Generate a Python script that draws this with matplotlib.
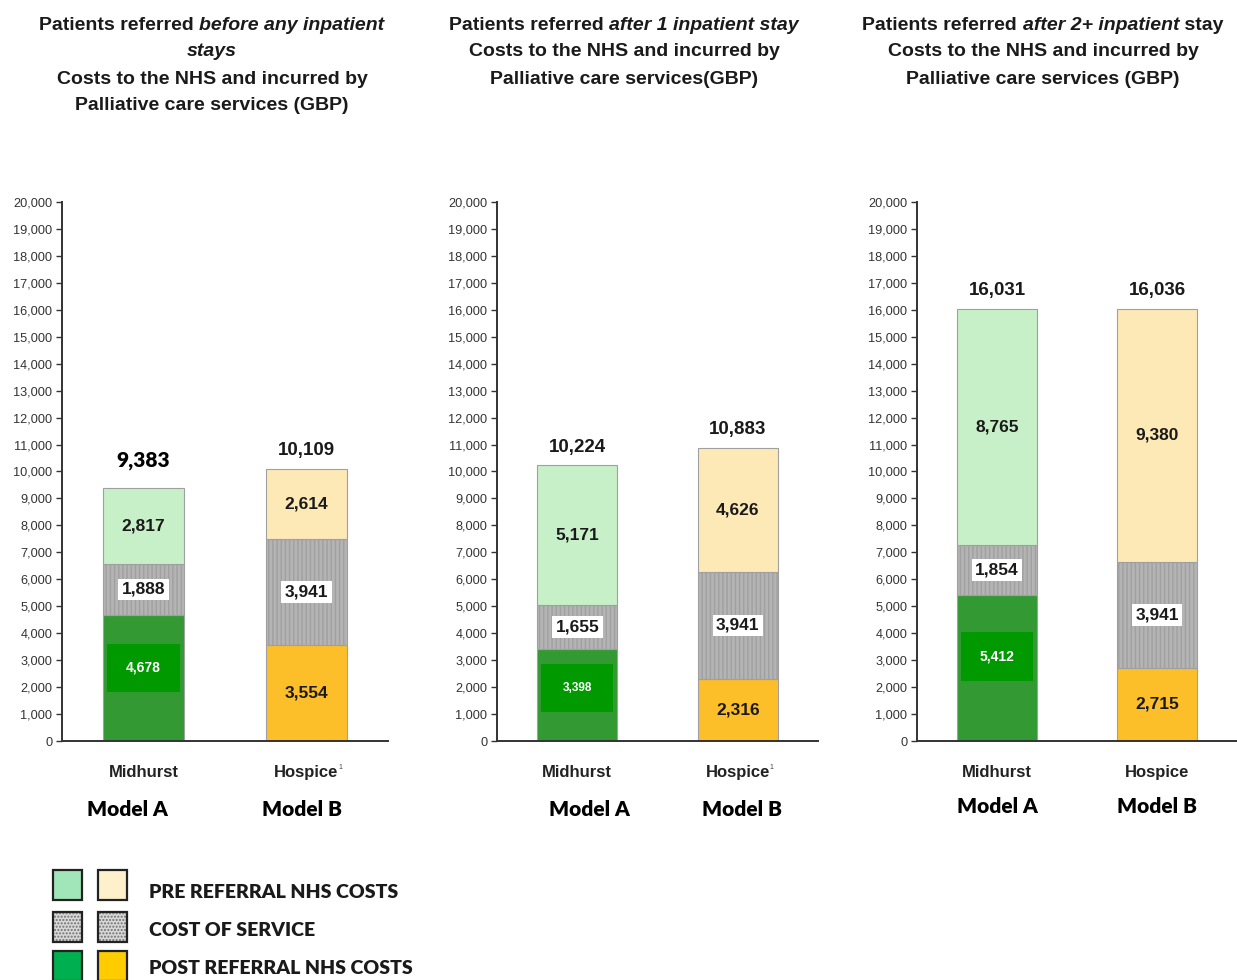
import matplotlib
matplotlib.use("Agg")
import matplotlib.pyplot as plt
from matplotlib.patches import Rectangle
from matplotlib.ticker import FuncFormatter

SANS = ['Liberation Sans', 'DejaVu Sans']
CAL = ['Lato', 'DejaVu Sans']

# data
categories = ['Midhurst', 'Hospice']
post_nhs = [[4678, 3554], [3398, 2316], [5412, 2715]]
service = [[1888, 3941], [1655, 3941], [1854, 3941]]
pre_nhs = [[2817, 2614], [5171, 4626], [8765, 9380]]
totals = [[9383, 10109], [10224, 10883], [16031, 16036]]

fig = plt.figure(figsize=(12.37, 9.8), dpi=100)
W, H = 1237, 980

ax_pos = [(62, 326), (497, 321), (917, 320)]
pre_col = ['#c8f0c8', '#fde9b6']
post_col = ['#339933', '#fcbf2a']
grey = '#b4b4b4'
ink = '#1a1a1a'

for p in range(3):
    left, width = ax_pos[p]
    ax = fig.add_axes([left / W, 1 - 741 / H, width / W, 539 / H])
    x = [1, 3]
    b1 = post_nhs[p]
    b2 = [post_nhs[p][i] + service[p][i] for i in range(2)]
    ax.bar(x, post_nhs[p], width=1, color=post_col, edgecolor='#a0a0a0', linewidth=0.8)
    ax.bar(x, service[p], width=1, bottom=b1, color=grey, edgecolor='#a0a0a0',
           linewidth=0.8, hatch='||||')
    ax.bar(x, pre_nhs[p], width=1, bottom=b2, color=pre_col, edgecolor='#a0a0a0', linewidth=0.8)

    # bright inner box for Model A post referral
    mid = post_nhs[p][0] * 0.58
    ax.bar(1, 1800, width=0.9, bottom=mid - 900, color='#009900', linewidth=0)
    ax.text(1, mid, f"{post_nhs[p][0]:,}", ha='center', va='center', color='white',
            fontsize=10 if p != 1 else 8.5, fontweight='bold', family=SANS)
    # hospice post label
    ax.text(3, post_nhs[p][1] / 2, f"{post_nhs[p][1]:,}", ha='center', va='center',
            fontsize=12.5, fontweight='bold', family=SANS, color=ink)
    for i in range(2):
        ax.text(x[i], b1[i] + service[p][i] / 2, f"{service[p][i]:,}", ha='center', va='center',
                fontsize=12.5, fontweight='bold', family=SANS, color=ink,
                bbox=dict(facecolor='white', edgecolor='none', pad=2.5))
        ax.text(x[i], b2[i] + pre_nhs[p][i] / 2, f"{pre_nhs[p][i]:,}", ha='center', va='center',
                fontsize=12.5, fontweight='bold', family=SANS, color=ink)
        top = b2[i] + pre_nhs[p][i]
        if p == 0 and i == 0:
            ax.annotate(f"{totals[p][i]:,}", (x[i], top), xytext=(0, 20), textcoords='offset points',
                        ha='center', va='center', fontsize=15, fontweight='heavy', family=CAL)
        else:
            ax.annotate(f"{totals[p][i]:,}", (x[i], top), xytext=(0, 13), textcoords='offset points',
                        ha='center', va='center', fontsize=13.5, fontweight='bold', family=SANS,
                        color=ink)

    ax.set_xlim(0, 4)
    ax.set_ylim(0, 20000)
    ax.set_yticks(range(0, 20001, 1000))
    ax.yaxis.set_major_formatter(FuncFormatter(lambda v, _: f"{int(v):,}"))
    for s in ['top', 'right']:
        ax.spines[s].set_visible(False)
    for s in ['left', 'bottom']:
        ax.spines[s].set_color('#333333')
        ax.spines[s].set_linewidth(1.4)
    ax.tick_params(axis='y', length=4, width=1, color='#333333', labelsize=9.2,
                   labelcolor='#333333', pad=3)
    for lab in ax.get_yticklabels():
        lab.set_family(SANS)
    ax.set_xticks(x)
    ax.set_xticklabels(categories, fontsize=12, fontweight='bold', family=SANS, color='#222222')
    ax.tick_params(axis='x', length=0, pad=17)
    if p != 2:
        ax.annotate('1', (3, 0), xycoords=('data', 'axes fraction'), xytext=(23, -19),
                    textcoords='offset points', fontsize=5, family=SANS, color='#444444',
                    ha='left', va='center')

    ay = -0.128 if p != 2 else -0.121
    shift = [(-0.2, -0.05), (0.15, 0.05), (0, 0.0)][p]
    ax.text(1 + shift[0], ay, 'Model A', transform=ax.get_xaxis_transform(), ha='center', va='center',
            fontsize=15, fontweight='heavy', family=CAL)
    ax.text(3 + shift[1], ay, 'Model B', transform=ax.get_xaxis_transform(), ha='center', va='center',
            fontsize=15, fontweight='heavy', family=CAL)

# titles with italic pieces
titles = [
    (212, [[("Patients referred ", 'normal'), ("before any inpatient", 'italic')],
           [("stays", 'italic')],
           [("Costs to the NHS and incurred by", 'normal')],
           [("Palliative care services (GBP)", 'normal')]]),
    (624, [[("Patients referred ", 'normal'), ("after 1 inpatient stay", 'italic')],
           [("Costs to the NHS and incurred by", 'normal')],
           [("Palliative care services(GBP)", 'normal')]]),
    (1043, [[("Patients referred ", 'normal'), ("after 2+ inpatient", 'italic'), (" stay", 'normal')],
            [("Costs to the NHS and incurred by", 'normal')],
            [("Palliative care services (GBP)", 'normal')]]),
]
line_y = [26, 52, 79, 105]
fig.canvas.draw()
renderer = fig.canvas.get_renderer()
for cx, lines in titles:
    for li, parts in enumerate(lines):
        texts = []
        for s, st in parts:
            t = fig.text(0, 1 - line_y[li] / H, s.replace(' ', '\u00a0'), style=st, fontsize=14,
                         fontweight='bold', family=SANS, va='center', ha='left', color=ink)
            texts.append(t)
        widths = [t.get_window_extent(renderer).width for t in texts]
        start = cx - sum(widths) / 2
        for t, w in zip(texts, widths):
            t.set_x(start / W)
            start += w

# legend
leg_rows = [('PRE REFERRAL NHS COSTS', '#a0e6b8', '#fff0cc', None, 885, 892),
            ('COST OF SERVICE', '#d8d8d8', '#d8d8d8', '.....', 927, 930),
            ('POST REFERRAL NHS COSTS', '#00b050', '#ffcc00', None, 966, 968)]
for text, c1, c2, hatch, yc, ty in leg_rows:
    for xl, c in [(53, c1), (98, c2)]:
        if hatch:
            fig.patches.append(Rectangle((xl / W, 1 - (yc + 15) / H), 29 / W, 30 / H,
                                         transform=fig.transFigure, facecolor=c, hatch=hatch,
                                         edgecolor='#707070', linewidth=0))
            fig.patches.append(Rectangle((xl / W, 1 - (yc + 15) / H), 29 / W, 30 / H,
                                         transform=fig.transFigure, facecolor='none',
                                         edgecolor='#222222', linewidth=1.6))
        else:
            fig.patches.append(Rectangle((xl / W, 1 - (yc + 15) / H), 29 / W, 30 / H,
                                         transform=fig.transFigure, facecolor=c,
                                         edgecolor='#222222', linewidth=1.6))
    fig.text(149 / W, 1 - ty / H, text, fontsize=14, fontweight='heavy', family=CAL,
             va='center', ha='left', color=ink)

fig.savefig('out.png', dpi=100)
